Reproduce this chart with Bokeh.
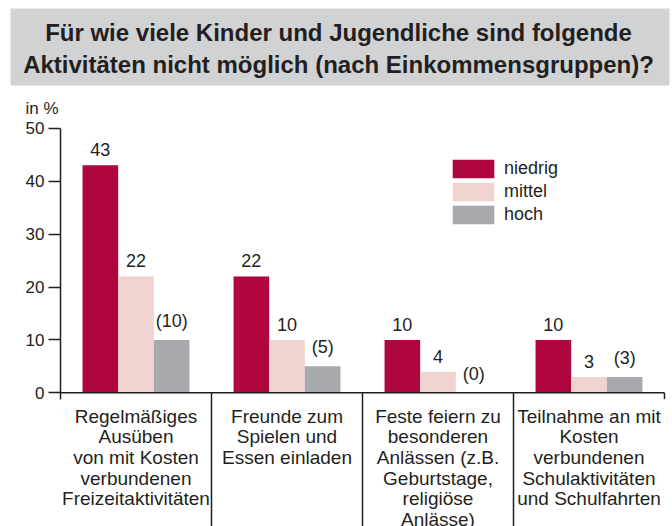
from bokeh.plotting import figure
from bokeh.models import Range1d, FixedTicker, Legend, LegendItem
from bokeh.embed import file_html
from bokeh.resources import INLINE
from bokeh.core.properties import value

# ---------------- data ----------------
title_lines = ["Für wie viele Kinder und Jugendliche sind folgende",
               "Aktivitäten nicht möglich (nach Einkommensgruppen)?"]
unit_label = "in %"
categories = [
    "Regelmäßiges\nAusüben\nvon mit Kosten\nverbundenen\nFreizeitaktivitäten",
    "Freunde zum\nSpielen und\nEssen einladen",
    "Feste feiern zu\nbesonderen\nAnlässen (z.B.\nGeburtstage,\nreligiöse\nAnlässe)",
    "Teilnahme an mit\nKosten\nverbundenen\nSchulaktivitäten\nund Schulfahrten",
]
series_names = ["niedrig", "mittel", "hoch"]
niedrig = [43, 22, 10, 10]
mittel = [22, 10, 4, 3]
hoch = [10, 5, 0, 3]
niedrig_labels = ["43", "22", "10", "10"]
mittel_labels = ["22", "10", "4", "3"]
hoch_labels = ["(10)", "(5)", "(0)", "(3)"]
y_ticks = [0, 10, 20, 30, 40, 50]

# ---------------- style / layout ----------------
FONT = "Liberation Sans"
INK = "#231F20"
COLORS = ["#B0063E", "#F0D2D0", "#A7A9AC"]
TITLE_BG = "#D1D2D4"
BAR_W = 0.236

W, H = 672, 526
AX_X, RIGHT_X = 60, 664          # pixel position of y axis and right end of baseline
ZERO_Y, PX_PER_UNIT = 392.3, 5.29
n = len(categories)
cat_px = (RIGHT_X - AX_X) / n
x_start, x_end = -AX_X / cat_px, n + (W - RIGHT_X) / cat_px
y_end, y_start = ZERO_Y / PX_PER_UNIT, -(H - ZERO_Y) / PX_PER_UNIT


def dx(px):
    return (px - AX_X) / cat_px


def dy(py):
    return (ZERO_Y - py) / PX_PER_UNIT


p = figure(width=W, height=H, x_range=Range1d(x_start, x_end), y_range=Range1d(y_start, y_end),
           output_backend="svg", toolbar_location=None, x_axis_location=None,
           min_border=0, min_border_left=0, min_border_right=0,
           min_border_top=0, min_border_bottom=0)
p.outline_line_color = None
p.grid.visible = False

# title block
p.quad(left=[dx(10)], right=[dx(669)], top=[dy(8)], bottom=[dy(85)],
       fill_color=TITLE_BG, line_color=None)
p.text(x=[dx(338)] * 2, y=[dy(32), dy(64)], text=title_lines, text_align="center",
       text_baseline="middle", text_font=value(FONT), text_font_style="bold",
       text_font_size="24px", text_color=INK)
p.text(x=[dx(25)], y=[dy(108)], text=[unit_label], text_align="left", text_baseline="middle",
       text_font=value(FONT), text_font_size="17px", text_color=INK)

# y axis
ax = p.yaxis[0]
ax.fixed_location = 0
ax.ticker = FixedTicker(ticks=y_ticks)
ax.bounds = (-1.2, 50)
ax.major_tick_out = 12
ax.major_tick_in = 0
ax.minor_tick_out = 0
ax.minor_tick_in = 0
ax.axis_line_width = 1.5
ax.major_tick_line_width = 1.5
ax.axis_line_color = INK
ax.major_tick_line_color = INK
ax.major_label_text_font = FONT
ax.major_label_text_font_size = "17px"
ax.major_label_text_color = INK
ax.major_label_standoff = 4

# bars and value labels
centers = [i + 0.5 for i in range(n)]
series_vals = [niedrig, mittel, hoch]
series_labels = [niedrig_labels, mittel_labels, hoch_labels]
offsets = [-BAR_W, 0.0, BAR_W]
renderers = []
for vals, labs, off, col in zip(series_vals, series_labels, offsets, COLORS):
    xs = [c + off for c in centers]
    r = p.vbar(x=xs, top=vals, bottom=0, width=BAR_W, fill_color=col, line_color=None)
    renderers.append(r)
    p.text(x=xs, y=vals, text=labs, text_align="center", text_baseline="bottom",
           y_offset=-9, text_font=value(FONT), text_font_size="18px", text_color=INK)

# baseline and category separators
p.segment(x0=[0], y0=[0], x1=[n], y1=[0], line_color=INK, line_width=1.5)
seps = list(range(1, n))
p.segment(x0=seps, y0=[0] * len(seps), x1=seps, y1=[y_start] * len(seps),
          line_color=INK, line_width=1.5)
p.segment(x0=[n], y0=[0], x1=[n], y1=[-1.2], line_color=INK, line_width=1.5)

# category labels
p.text(x=centers, y=[0] * n, text=categories, text_align="center", text_baseline="top",
       y_offset=13, text_font=value(FONT), text_font_size="19px", text_color=INK,
       text_line_height=0.98)

legend = Legend(items=[LegendItem(label=nm, renderers=[r]) for nm, r in zip(series_names, renderers)],
                location=(447, 300), orientation="vertical",
                glyph_width=52, glyph_height=23, label_height=23, spacing=0,
                padding=0, margin=0, label_standoff=5,
                border_line_color=None, background_fill_alpha=0,
                label_text_font=FONT, label_text_font_size="18px", label_text_color=INK)
p.add_layout(legend)

open("out.html", "w").write(file_html(p, INLINE))
